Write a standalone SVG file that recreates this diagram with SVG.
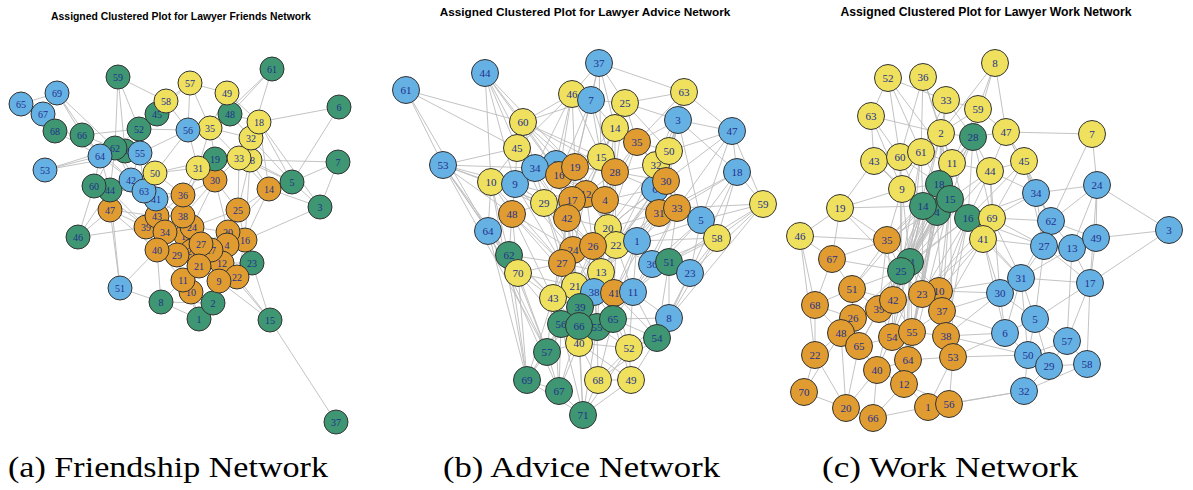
<svg xmlns="http://www.w3.org/2000/svg" width="1193" height="490" viewBox="0 0 1193 490">
<style>
.n circle{stroke:#333;stroke-width:1}
.G circle{fill:#3E9672}
.B circle{fill:#66B1E4}
.Y circle{fill:#EFE15E}
.O circle{fill:#E09C31}
.n text{font-family:"Liberation Serif","Times New Roman",serif;fill:#22308c;text-anchor:middle}
#pa .n text{font-size:10px}
#pb .n text,#pc .n text{font-size:11px}
.edges{fill:none;stroke:#bcbcbc;stroke-width:0.9}
.title{font-family:"Liberation Sans",Arial,sans-serif;font-weight:bold;fill:#000;text-anchor:middle}
.cap{font-family:"Liberation Serif","Times New Roman",serif;font-size:28.5px;fill:#000}
</style>
<rect width="1193" height="490" fill="#fff"/>

<!-- panel titles -->
<text class="title" x="181" y="20" font-size="10.4">Assigned Clustered Plot for Lawyer Friends Network</text>
<text class="title" x="585" y="16" font-size="11.8">Assigned Clustered Plot for Lawyer Advice Network</text>
<text class="title" x="986" y="16" font-size="12.2">Assigned Clustered Plot for Lawyer Work Network</text>

<!-- edges -->
<g id="connectors">
<path class="edges" id="edges-a" d="M272 69 230 114M272 69 251 138M272 69 210 128M339 107 259 122M339 107 292 182M338 162 250 160M338 162 292 182M338 162 320 207M320 207 292 182M320 207 269 189M320 207 245 240M320 207 259 122M292 182 259 122M292 182 269 189M292 182 251 138M292 182 250 160M292 182 239 158M118 77 115 148M118 77 139 129M118 77 166 101M118 77 125 151M57 93 82 135M57 93 100 156M57 93 115 148M43 114 21 104M43 114 57 93M21 104 57 93M55 131 100 156M55 131 82 135M43 114 55 131M45 170 115 148M45 170 140 153M45 170 100 156M78 237 110 190M78 237 94 186M78 237 146 227M78 237 110 210M120 288 110 210M120 288 157 250M120 288 161 302M120 288 110 190M161 302 199 319M161 302 183 280M161 302 157 250M161 302 213 303M270 320 252 263M270 320 237 277M270 320 336 422M270 320 219 281M270 320 222 263M199 319 213 303M199 319 183 280M199 319 191 292M213 303 191 292M213 303 219 281M252 263 245 240M252 263 237 277M252 263 228 232M252 263 222 263M190 83 166 101M190 83 210 128M190 83 188 130M190 83 227 93M190 83 157 114M227 93 230 114M227 93 210 128M227 93 259 122M166 101 157 114M166 101 188 130M166 101 139 129M259 122 251 138M259 122 230 114M259 122 269 189M259 122 239 158M230 114 210 128M230 114 251 138M82 135 115 148M82 135 100 156M82 135 139 129M82 135 131 180M139 129 140 153M139 129 157 114M139 129 115 148M139 129 188 130M188 130 210 128M188 130 155 173M188 130 198 168M188 130 140 153M115 148 100 156M115 148 140 153M115 148 131 180M115 148 94 186M115 148 110 190M115 148 144 191M100 156 131 180M100 156 94 186M100 156 110 190M140 153 155 173M140 153 144 191M140 153 131 180M94 186 110 190M94 186 110 210M94 186 131 180M94 186 144 191M94 186 146 227M110 190 110 210M110 190 131 180M110 190 144 191M110 190 146 227M131 180 144 191M131 180 156 199M131 180 157 216M131 180 155 173M144 191 156 199M144 191 157 216M144 191 183 195M144 191 155 173M155 173 198 168M155 173 183 195M155 173 156 199M155 173 215 159M156 199 157 216M156 199 183 216M156 199 183 195M156 199 165 232M110 210 146 227M110 210 157 216M110 210 157 250M210 128 198 168M210 128 215 159M210 128 239 158M210 128 251 138M215 159 198 168M215 159 215 180M215 159 239 158M215 159 183 195M239 158 250 160M239 158 251 138M239 158 215 180M239 158 269 189M239 158 238 210M250 160 269 189M250 160 238 210M250 160 245 240M198 168 215 180M198 168 183 195M198 168 183 216M215 180 183 195M215 180 183 216M215 180 238 210M215 180 192 227M215 180 228 232M269 189 238 210M269 189 245 240M269 189 228 232M238 210 228 232M238 210 245 240M238 210 192 227M183 195 183 216M183 195 157 216M183 195 192 227M157 216 183 216M157 216 146 227M157 216 165 232M183 216 192 227M183 216 165 232M183 216 186 236M146 227 165 232M146 227 157 250M165 232 157 250M165 232 177 255M165 232 186 236M192 227 186 236M192 227 201 244M192 227 228 232M186 236 201 244M186 236 192 251M186 236 177 255M201 244 192 251M201 244 211 250M201 244 199 266M201 244 228 232M201 244 227 245M192 251 177 255M192 251 199 266M192 251 211 250M211 250 227 245M211 250 222 263M211 250 199 266M157 250 177 255M157 250 183 280M177 255 199 266M177 255 183 280M199 266 183 280M199 266 191 292M199 266 219 281M199 266 222 263M183 280 191 292M228 232 245 240M228 232 227 245M245 240 227 245M245 240 237 277M245 240 222 263M227 245 222 263M222 263 237 277M222 263 219 281M237 277 219 281"/>
<path class="edges" id="edges-b" d="M406 90 443 165M406 90 523 122M406 90 517 148M485 73 523 122M485 73 517 148M485 73 491 182M485 73 535 168M485 73 575 167M443 165 491 182M443 165 535 168M443 165 517 148M443 165 488 231M443 165 512 214M443 165 515 184M443 165 544 203M599 63 591 100M599 63 625 103M599 63 684 92M599 63 572 94M599 63 615 128M599 63 601 157M572 94 523 122M572 94 591 100M572 94 535 168M572 94 575 167M572 94 517 148M572 94 559 175M684 92 678 120M684 92 669 151M684 92 625 103M684 92 732 131M684 92 637 142M591 100 625 103M591 100 615 128M591 100 523 122M591 100 575 167M591 100 601 157M625 103 615 128M625 103 678 120M625 103 637 142M625 103 669 151M678 120 669 151M678 120 732 131M678 120 656 165M678 120 737 172M678 120 637 142M678 120 659 213M732 131 737 172M732 131 669 151M732 131 701 220M732 131 666 181M523 122 517 148M523 122 535 168M523 122 559 175M523 122 615 172M523 122 601 157M615 128 637 142M615 128 601 157M615 128 615 172M615 128 575 167M637 142 615 172M637 142 669 151M637 142 656 165M637 142 605 200M517 148 535 168M517 148 515 184M517 148 491 182M517 148 559 175M517 148 544 203M669 151 656 165M669 151 666 181M669 151 677 208M669 151 655 189M601 157 615 172M601 157 575 167M601 157 586 194M601 157 605 200M601 157 556 164M535 168 515 184M535 168 556 164M535 168 559 175M535 168 544 203M575 167 559 175M575 167 586 194M575 167 572 200M656 165 666 181M656 165 655 189M656 165 659 213M656 165 677 208M615 172 605 200M615 172 586 194M615 172 608 228M615 172 666 181M737 172 701 220M737 172 677 208M737 172 763 204M737 172 717 238M737 172 659 213M491 182 515 184M491 182 512 214M491 182 488 231M491 182 544 203M491 182 509 255M515 184 512 214M515 184 544 203M515 184 559 175M515 184 567 218M666 181 655 189M666 181 677 208M666 181 659 213M666 181 637 241M655 189 659 213M655 189 605 200M655 189 608 228M586 194 572 200M586 194 605 200M586 194 567 218M586 194 608 228M572 200 567 218M572 200 544 203M572 200 605 200M572 200 573 250M605 200 608 228M605 200 593 246M605 200 616 245M544 203 512 214M544 203 567 218M544 203 562 263M763 204 701 220M763 204 717 238M763 204 690 273M763 204 677 208M659 213 677 208M659 213 701 220M659 213 637 241M659 213 616 245M677 208 701 220M677 208 717 238M677 208 652 264M701 220 717 238M701 220 690 273M701 220 637 241M512 214 488 231M512 214 509 255M512 214 518 273M512 214 562 263M567 218 573 250M567 218 562 263M567 218 608 228M608 228 616 245M608 228 593 246M608 228 637 241M608 228 601 272M488 231 509 255M488 231 518 273M488 231 527 380M488 231 547 352M717 238 690 273M717 238 637 241M717 238 669 262M637 241 616 245M637 241 652 264M637 241 633 292M616 245 593 246M616 245 601 272M616 245 614 293M573 250 593 246M573 250 562 263M573 250 575 286M573 250 601 272M593 246 601 272M593 246 594 292M593 246 575 286M509 255 518 273M509 255 527 380M509 255 547 352M509 255 562 263M562 263 575 286M562 263 553 298M562 263 518 273M652 264 669 262M652 264 633 292M652 264 690 273M669 262 690 273M669 262 669 318M669 262 657 338M669 262 633 292M518 273 553 298M518 273 547 352M518 273 527 380M518 273 575 286M601 272 594 292M601 272 614 293M601 272 575 286M575 286 594 292M575 286 553 298M575 286 580 307M594 292 614 293M594 292 580 307M594 292 613 319M614 293 633 292M614 293 613 319M614 293 597 327M633 292 613 319M633 292 669 318M633 292 629 348M553 298 580 307M553 298 561 324M553 298 547 352M580 307 561 324M580 307 579 326M580 307 597 327M669 318 657 338M669 318 613 319M613 319 597 327M613 319 657 338M613 319 629 348M561 324 579 326M561 324 547 352M561 324 579 343M597 327 579 326M597 327 579 343M597 327 629 348M657 338 629 348M657 338 631 380M579 343 547 352M579 343 629 348M579 343 598 380M579 343 583 415M547 352 527 380M547 352 559 391M629 348 598 380M629 348 631 380M527 380 559 391M527 380 583 415M598 380 631 380M598 380 583 415M559 391 583 415M631 380 583 415M559 391 579 343M559 391 561 324M491 182 527 380M443 165 518 273M488 231 559 391M559 175 586 194M556 164 575 167M559 175 572 200M575 167 615 172M567 218 593 246M572 200 593 246M586 194 573 250M605 200 601 272M544 203 573 250M562 263 601 272M593 246 614 293M573 250 594 292M575 286 614 293M559 175 544 203M556 164 615 172M601 157 559 175M655 189 616 245M666 181 616 245M659 213 608 228M677 208 637 241M677 208 669 262M656 165 615 172M655 189 615 172M605 200 659 213M608 228 614 293M616 245 652 264M601 272 633 292M594 292 597 327M614 293 629 348M575 286 579 326M553 298 579 326M573 250 553 298M562 263 580 307M567 218 601 272M515 184 572 200M535 168 572 200M586 194 593 246M523 122 575 167M523 122 586 194M517 148 572 200M517 148 567 218M535 168 567 218M535 168 586 194M491 182 567 218M491 182 562 263M515 184 573 250M515 184 562 263M544 203 593 246M544 203 575 286M512 214 573 250M512 214 553 298M512 214 575 286M559 175 567 218M559 175 605 200M575 167 605 200M575 167 608 228M615 172 616 245M615 172 593 246M601 157 608 228M601 157 567 218M615 128 605 200M615 128 586 194M637 142 608 228M637 142 666 181M656 165 608 228M656 165 616 245M666 181 608 228M655 189 637 241M655 189 601 272M659 213 601 272M659 213 614 293M677 208 633 292M701 220 652 264M701 220 633 292M717 238 652 264M717 238 669 318M637 241 601 272M637 241 614 293M637 241 613 319M616 245 594 292M616 245 633 292M608 228 575 286M608 228 594 292M567 218 575 286M567 218 553 298M562 263 561 324M562 263 579 326M573 250 580 307M573 250 579 326M593 246 597 327M593 246 580 307M601 272 613 319M601 272 597 327M601 272 579 343M575 286 561 324M594 292 579 343M614 293 657 338M633 292 657 338M553 298 527 380M553 298 559 391M580 307 547 352M580 307 579 343M579 326 559 391M579 326 583 415M597 327 598 380M597 327 583 415M613 319 631 380M613 319 598 380M561 324 527 380M561 324 583 415M629 348 583 415M579 343 631 380M509 255 553 298M518 273 561 324M488 231 553 298M443 165 509 255M443 165 547 352M406 90 488 231M485 73 515 184M485 73 559 175M572 94 556 164M572 94 601 157M599 63 575 167M591 100 559 175M591 100 615 172M625 103 615 172M625 103 601 157M684 92 656 165M684 92 666 181M678 120 666 181M678 120 701 220M732 131 763 204M732 131 677 208M737 172 690 273M763 204 669 262M763 204 669 318M690 273 657 338M690 273 669 318M657 338 598 380M669 318 629 348"/>
<path class="edges" id="edges-c" d="M995 63 978 109M995 63 973 137M995 63 1006 132M995 63 941 133M888 78 871 116M888 78 921 152M888 78 900 157M888 78 952 163M888 78 946 100M923 77 921 152M923 77 941 133M923 77 952 163M923 77 900 157M946 100 941 133M946 100 978 109M946 100 973 137M946 100 921 152M946 100 939 184M978 109 973 137M978 109 1006 132M978 109 941 133M978 109 952 163M871 116 874 161M871 116 900 157M871 116 941 133M871 116 902 189M1006 132 973 137M1006 132 1092 134M1006 132 990 171M1006 132 1024 161M1006 132 1036 193M1006 132 1051 221M1092 134 1097 185M1092 134 1051 221M941 133 973 137M941 133 921 152M941 133 952 163M941 133 939 184M941 133 950 199M973 137 952 163M973 137 990 171M973 137 939 184M973 137 950 199M973 137 968 218M973 137 992 218M921 152 900 157M921 152 952 163M921 152 939 184M921 152 923 206M921 152 902 189M900 157 874 161M900 157 902 189M900 157 923 206M900 157 939 184M874 161 902 189M874 161 923 206M874 161 840 208M952 163 939 184M952 163 950 199M952 163 990 171M952 163 968 218M1024 161 990 171M1024 161 1036 193M1024 161 1051 221M1024 161 992 218M1024 161 968 218M990 171 968 218M990 171 992 218M990 171 1036 193M990 171 950 199M902 189 923 206M902 189 939 184M902 189 840 208M902 189 887 240M939 184 950 199M939 184 923 206M939 184 968 218M939 184 910 262M1097 185 1036 193M1097 185 1051 221M1097 185 1096 238M1097 185 1169 230M1097 185 1090 283M1097 185 1072 248M1036 193 1051 221M1036 193 1044 246M1036 193 992 218M1036 193 968 218M950 199 923 206M950 199 968 218M950 199 937 212M950 199 983 239M950 199 901 271M923 206 937 212M923 206 910 262M923 206 901 271M923 206 887 240M923 206 840 208M840 208 800 236M840 208 887 240M840 208 901 271M968 218 992 218M968 218 983 239M968 218 1044 246M968 218 910 262M992 218 983 239M992 218 1051 221M992 218 1021 278M1051 221 1044 246M1051 221 1072 248M1051 221 1096 238M1051 221 1021 278M1169 230 1096 238M1169 230 1090 283M800 236 832 259M800 236 815 305M800 236 887 240M983 239 1044 246M983 239 1000 293M983 239 922 294M983 239 1021 278M1096 238 1072 248M1096 238 1090 283M887 240 832 259M887 240 901 271M887 240 852 289M887 240 910 262M1044 246 1072 248M1044 246 1021 278M1044 246 1090 283M1044 246 1035 319M1072 248 1090 283M1072 248 1021 278M1072 248 1067 341M832 259 852 289M832 259 815 305M832 259 901 271M910 262 901 271M910 262 922 294M910 262 939 291M910 262 893 300M910 262 942 311M910 262 912 332M910 262 879 309M901 271 893 300M901 271 879 309M901 271 852 289M901 271 922 294M901 271 892 337M901 271 853 318M901 271 908 360M1090 283 1021 278M1090 283 1067 341M1090 283 1087 364M1090 283 1035 319M1021 278 1000 293M1021 278 1035 319M1021 278 1005 333M1021 278 1028 355M852 289 893 300M852 289 879 309M852 289 853 318M852 289 815 305M939 291 922 294M939 291 942 311M939 291 1000 293M922 294 893 300M922 294 942 311M922 294 912 332M1000 293 1005 333M1000 293 1035 319M1000 293 942 311M1000 293 946 336M893 300 879 309M893 300 912 332M893 300 892 337M815 305 853 318M815 305 815 355M815 305 841 333M879 309 853 318M879 309 892 337M879 309 859 346M942 311 946 336M942 311 912 332M942 311 953 357M853 318 841 333M853 318 859 346M1035 319 1005 333M1035 319 1067 341M1035 319 1028 355M1035 319 1049 366M841 333 859 346M841 333 815 355M841 333 846 408M841 333 804 392M912 332 892 337M912 332 908 360M912 332 946 336M892 337 859 346M892 337 908 360M892 337 877 370M946 336 953 357M946 336 1005 333M946 336 1028 355M1005 333 1028 355M1005 333 953 357M1067 341 1049 366M1067 341 1087 364M1067 341 1028 355M859 346 877 370M859 346 846 408M815 355 804 392M815 355 846 408M1028 355 1049 366M1028 355 1024 391M953 357 908 360M953 357 949 404M953 357 928 407M908 360 904 384M908 360 877 370M1049 366 1087 364M1049 366 1024 391M1087 364 1024 391M877 370 904 384M877 370 873 418M877 370 846 408M904 384 928 407M904 384 873 418M904 384 949 404M804 392 846 408M846 408 873 418M928 407 949 404M873 418 928 407M949 404 1024 391M928 407 1024 391M939 184 901 271M950 199 910 262M923 206 893 300M937 212 922 294M937 212 912 332M950 199 942 311M968 218 939 291M939 184 908 360M923 206 892 337M937 212 879 309M968 218 922 294M950 199 904 384M973 137 901 271M941 133 910 262M952 163 910 262M921 152 901 271M990 171 1000 293M992 218 1044 246M1024 161 1044 246M983 239 1005 333M968 218 1021 278M942 311 1005 333M953 357 1028 355M939 291 1021 278M939 184 912 332M950 199 892 337M923 206 879 309M937 212 893 300M937 212 942 311M968 218 942 311M950 199 939 291M939 184 922 294M923 206 922 294M937 212 910 262M937 212 901 271M968 218 901 271M950 199 887 240M939 184 887 240M923 206 852 289M937 212 908 360M968 218 946 336M950 199 953 357M973 137 910 262M921 152 910 262M900 157 901 271M902 189 901 271M902 189 910 262M941 133 901 271M952 163 901 271M990 171 910 262M992 218 922 294M983 239 939 291M983 239 942 311M910 262 904 384M901 271 877 370M910 262 908 360M901 271 859 346M887 240 893 300M887 240 879 309M840 208 832 259M800 236 815 355"/>
</g>

<!-- Friendship network nodes -->
<g id="pa">
<g id="a37" class="n G"><circle cx="336" cy="422" r="12"/><text x="336" y="425.5">37</text></g>
<g id="a15" class="n G"><circle cx="270" cy="320" r="12"/><text x="270" y="323.5">15</text></g>
<g id="a1" class="n G"><circle cx="199" cy="319" r="12"/><text x="199" y="322.5">1</text></g>
<g id="a2" class="n G"><circle cx="213" cy="303" r="12"/><text x="213" y="306.5">2</text></g>
<g id="a8" class="n G"><circle cx="161" cy="302" r="12"/><text x="161" y="305.5">8</text></g>
<g id="a51" class="n B"><circle cx="120" cy="288" r="12"/><text x="120" y="291.5">51</text></g>
<g id="a46" class="n G"><circle cx="78" cy="237" r="12"/><text x="78" y="240.5">46</text></g>
<g id="a3" class="n G"><circle cx="320" cy="207" r="12"/><text x="320" y="210.5">3</text></g>
<g id="a7" class="n G"><circle cx="338" cy="162" r="12"/><text x="338" y="165.5">7</text></g>
<g id="a6" class="n G"><circle cx="339" cy="107" r="12"/><text x="339" y="110.5">6</text></g>
<g id="a61" class="n G"><circle cx="272" cy="69" r="12"/><text x="272" y="72.5">61</text></g>
<g id="a5" class="n G"><circle cx="292" cy="182" r="12"/><text x="292" y="185.5">5</text></g>
<g id="a14" class="n O"><circle cx="269" cy="189" r="12"/><text x="269" y="192.5">14</text></g>
<g id="a23" class="n G"><circle cx="252" cy="263" r="12"/><text x="252" y="266.5">23</text></g>
<g id="a16" class="n O"><circle cx="245" cy="240" r="12"/><text x="245" y="243.5">16</text></g>
<g id="a20" class="n O"><circle cx="228" cy="232" r="12"/><text x="228" y="235.5">20</text></g>
<g id="a4" class="n O"><circle cx="227" cy="245" r="12"/><text x="227" y="248.5">4</text></g>
<g id="a12" class="n O"><circle cx="222" cy="263" r="12"/><text x="222" y="266.5">12</text></g>
<g id="a22" class="n O"><circle cx="237" cy="277" r="12"/><text x="237" y="280.5">22</text></g>
<g id="a9" class="n O"><circle cx="219" cy="281" r="12"/><text x="219" y="284.5">9</text></g>
<g id="a10" class="n O"><circle cx="191" cy="292" r="12"/><text x="191" y="295.5">10</text></g>
<g id="a11" class="n O"><circle cx="183" cy="280" r="12"/><text x="183" y="283.5">11</text></g>
<g id="a13" class="n O"><circle cx="186" cy="236" r="12"/><text x="186" y="239.5">13</text></g>
<g id="a26" class="n O"><circle cx="192" cy="251" r="12"/><text x="192" y="254.5">26</text></g>
<g id="a17" class="n O"><circle cx="211" cy="250" r="12"/><text x="211" y="253.5">17</text></g>
<g id="a24" class="n O"><circle cx="192" cy="227" r="12"/><text x="192" y="230.5">24</text></g>
<g id="a27" class="n O"><circle cx="201" cy="244" r="12"/><text x="201" y="247.5">27</text></g>
<g id="a21" class="n O"><circle cx="199" cy="266" r="12"/><text x="199" y="269.5">21</text></g>
<g id="a29" class="n O"><circle cx="177" cy="255" r="12"/><text x="177" y="258.5">29</text></g>
<g id="a39" class="n O"><circle cx="146" cy="227" r="12"/><text x="146" y="230.5">39</text></g>
<g id="a43" class="n O"><circle cx="157" cy="216" r="12"/><text x="157" y="219.5">43</text></g>
<g id="a34" class="n O"><circle cx="165" cy="232" r="12"/><text x="165" y="235.5">34</text></g>
<g id="a40" class="n O"><circle cx="157" cy="250" r="12"/><text x="157" y="253.5">40</text></g>
<g id="a38" class="n O"><circle cx="183" cy="216" r="12"/><text x="183" y="219.5">38</text></g>
<g id="a36" class="n O"><circle cx="183" cy="195" r="12"/><text x="183" y="198.5">36</text></g>
<g id="a47" class="n O"><circle cx="110" cy="210" r="12"/><text x="110" y="213.5">47</text></g>
<g id="a25" class="n O"><circle cx="238" cy="210" r="12"/><text x="238" y="213.5">25</text></g>
<g id="a30" class="n O"><circle cx="215" cy="180" r="12"/><text x="215" y="183.5">30</text></g>
<g id="a28" class="n Y"><circle cx="250" cy="160" r="12"/><text x="250" y="163.5">28</text></g>
<g id="a33" class="n Y"><circle cx="239" cy="158" r="12"/><text x="239" y="161.5">33</text></g>
<g id="a32" class="n Y"><circle cx="251" cy="138" r="12"/><text x="251" y="141.5">32</text></g>
<g id="a18" class="n Y"><circle cx="259" cy="122" r="12"/><text x="259" y="125.5">18</text></g>
<g id="a48" class="n G"><circle cx="230" cy="114" r="12"/><text x="230" y="117.5">48</text></g>
<g id="a49" class="n Y"><circle cx="227" cy="93" r="12"/><text x="227" y="96.5">49</text></g>
<g id="a19" class="n G"><circle cx="215" cy="159" r="12"/><text x="215" y="162.5">19</text></g>
<g id="a31" class="n Y"><circle cx="198" cy="168" r="12"/><text x="198" y="171.5">31</text></g>
<g id="a35" class="n Y"><circle cx="210" cy="128" r="12"/><text x="210" y="131.5">35</text></g>
<g id="a57" class="n Y"><circle cx="190" cy="83" r="12"/><text x="190" y="86.5">57</text></g>
<g id="a59" class="n G"><circle cx="118" cy="77" r="12"/><text x="118" y="80.5">59</text></g>
<g id="a65" class="n B"><circle cx="21" cy="104" r="12"/><text x="21" y="107.5">65</text></g>
<g id="a69" class="n B"><circle cx="57" cy="93" r="12"/><text x="57" y="96.5">69</text></g>
<g id="a67" class="n B"><circle cx="43" cy="114" r="12"/><text x="43" y="117.5">67</text></g>
<g id="a68" class="n G"><circle cx="55" cy="131" r="12"/><text x="55" y="134.5">68</text></g>
<g id="a66" class="n G"><circle cx="82" cy="135" r="12"/><text x="82" y="138.5">66</text></g>
<g id="a53" class="n B"><circle cx="45" cy="170" r="12"/><text x="45" y="173.5">53</text></g>
<g id="a52" class="n G"><circle cx="139" cy="129" r="12"/><text x="139" y="132.5">52</text></g>
<g id="a45" class="n G"><circle cx="157" cy="114" r="12"/><text x="157" y="117.5">45</text></g>
<g id="a58" class="n Y"><circle cx="166" cy="101" r="12"/><text x="166" y="104.5">58</text></g>
<g id="a56" class="n B"><circle cx="188" cy="130" r="12"/><text x="188" y="133.5">56</text></g>
<g id="a54" class="n G"><circle cx="125" cy="151" r="12"/><text x="125" y="154.5">54</text></g>
<g id="a62" class="n G"><circle cx="115" cy="148" r="12"/><text x="115" y="151.5">62</text></g>
<g id="a64" class="n B"><circle cx="100" cy="156" r="12"/><text x="100" y="159.5">64</text></g>
<g id="a55" class="n B"><circle cx="140" cy="153" r="12"/><text x="140" y="156.5">55</text></g>
<g id="a44" class="n G"><circle cx="110" cy="190" r="12"/><text x="110" y="193.5">44</text></g>
<g id="a60" class="n G"><circle cx="94" cy="186" r="12"/><text x="94" y="189.5">60</text></g>
<g id="a42" class="n B"><circle cx="131" cy="180" r="12"/><text x="131" y="183.5">42</text></g>
<g id="a41" class="n B"><circle cx="156" cy="199" r="12"/><text x="156" y="202.5">41</text></g>
<g id="a63" class="n B"><circle cx="144" cy="191" r="12"/><text x="144" y="194.5">63</text></g>
<g id="a50" class="n Y"><circle cx="155" cy="173" r="12"/><text x="155" y="176.5">50</text></g>
</g>

<!-- Advice network nodes -->
<g id="pb">
<g id="b61" class="n B"><circle cx="406" cy="90" r="13.5"/><text x="406" y="94">61</text></g>
<g id="b44" class="n B"><circle cx="485" cy="73" r="13.5"/><text x="485" y="77">44</text></g>
<g id="b53" class="n B"><circle cx="443" cy="165" r="13.5"/><text x="443" y="169">53</text></g>
<g id="b37" class="n B"><circle cx="599" cy="63" r="13.5"/><text x="599" y="67">37</text></g>
<g id="b63" class="n Y"><circle cx="684" cy="92" r="13.5"/><text x="684" y="96">63</text></g>
<g id="b47" class="n B"><circle cx="732" cy="131" r="13.5"/><text x="732" y="135">47</text></g>
<g id="b18" class="n B"><circle cx="737" cy="172" r="13.5"/><text x="737" y="176">18</text></g>
<g id="b59" class="n Y"><circle cx="763" cy="204" r="13.5"/><text x="763" y="208">59</text></g>
<g id="b46" class="n Y"><circle cx="572" cy="94" r="13.5"/><text x="572" y="98">46</text></g>
<g id="b7" class="n B"><circle cx="591" cy="100" r="13.5"/><text x="591" y="104">7</text></g>
<g id="b25" class="n Y"><circle cx="625" cy="103" r="13.5"/><text x="625" y="107">25</text></g>
<g id="b3" class="n B"><circle cx="678" cy="120" r="13.5"/><text x="678" y="124">3</text></g>
<g id="b14" class="n Y"><circle cx="615" cy="128" r="13.5"/><text x="615" y="132">14</text></g>
<g id="b35" class="n O"><circle cx="637" cy="142" r="13.5"/><text x="637" y="146">35</text></g>
<g id="b60" class="n Y"><circle cx="523" cy="122" r="13.5"/><text x="523" y="126">60</text></g>
<g id="b45" class="n Y"><circle cx="517" cy="148" r="13.5"/><text x="517" y="152">45</text></g>
<g id="b15" class="n Y"><circle cx="601" cy="157" r="13.5"/><text x="601" y="161">15</text></g>
<g id="b2" class="n B"><circle cx="556" cy="164" r="13.5"/><text x="556" y="168">2</text></g>
<g id="b10" class="n Y"><circle cx="491" cy="182" r="13.5"/><text x="491" y="186">10</text></g>
<g id="b9" class="n B"><circle cx="515" cy="184" r="13.5"/><text x="515" y="188">9</text></g>
<g id="b34" class="n B"><circle cx="535" cy="168" r="13.5"/><text x="535" y="172">34</text></g>
<g id="b16" class="n O"><circle cx="559" cy="175" r="13.5"/><text x="559" y="179">16</text></g>
<g id="b19" class="n O"><circle cx="575" cy="167" r="13.5"/><text x="575" y="171">19</text></g>
<g id="b28" class="n O"><circle cx="615" cy="172" r="13.5"/><text x="615" y="176">28</text></g>
<g id="b6" class="n B"><circle cx="655" cy="189" r="13.5"/><text x="655" y="193">6</text></g>
<g id="b32" class="n Y"><circle cx="656" cy="165" r="13.5"/><text x="656" y="169">32</text></g>
<g id="b50" class="n Y"><circle cx="669" cy="151" r="13.5"/><text x="669" y="155">50</text></g>
<g id="b30" class="n O"><circle cx="666" cy="181" r="13.5"/><text x="666" y="185">30</text></g>
<g id="b12" class="n O"><circle cx="586" cy="194" r="13.5"/><text x="586" y="198">12</text></g>
<g id="b4" class="n O"><circle cx="605" cy="200" r="13.5"/><text x="605" y="204">4</text></g>
<g id="b17" class="n O"><circle cx="572" cy="200" r="13.5"/><text x="572" y="204">17</text></g>
<g id="b42" class="n O"><circle cx="567" cy="218" r="13.5"/><text x="567" y="222">42</text></g>
<g id="b29" class="n Y"><circle cx="544" cy="203" r="13.5"/><text x="544" y="207">29</text></g>
<g id="b48" class="n O"><circle cx="512" cy="214" r="13.5"/><text x="512" y="218">48</text></g>
<g id="b64" class="n B"><circle cx="488" cy="231" r="13.5"/><text x="488" y="235">64</text></g>
<g id="b31" class="n O"><circle cx="659" cy="213" r="13.5"/><text x="659" y="217">31</text></g>
<g id="b33" class="n O"><circle cx="677" cy="208" r="13.5"/><text x="677" y="212">33</text></g>
<g id="b5" class="n B"><circle cx="701" cy="220" r="13.5"/><text x="701" y="224">5</text></g>
<g id="b58" class="n Y"><circle cx="717" cy="238" r="13.5"/><text x="717" y="242">58</text></g>
<g id="b20" class="n Y"><circle cx="608" cy="228" r="13.5"/><text x="608" y="232">20</text></g>
<g id="b22" class="n Y"><circle cx="616" cy="245" r="13.5"/><text x="616" y="249">22</text></g>
<g id="b1" class="n B"><circle cx="637" cy="241" r="13.5"/><text x="637" y="245">1</text></g>
<g id="b24" class="n O"><circle cx="573" cy="250" r="13.5"/><text x="573" y="254">24</text></g>
<g id="b26" class="n O"><circle cx="593" cy="246" r="13.5"/><text x="593" y="250">26</text></g>
<g id="b27" class="n O"><circle cx="562" cy="263" r="13.5"/><text x="562" y="267">27</text></g>
<g id="b62" class="n G"><circle cx="509" cy="255" r="13.5"/><text x="509" y="259">62</text></g>
<g id="b70" class="n Y"><circle cx="518" cy="273" r="13.5"/><text x="518" y="277">70</text></g>
<g id="b13" class="n Y"><circle cx="601" cy="272" r="13.5"/><text x="601" y="276">13</text></g>
<g id="b36" class="n B"><circle cx="652" cy="264" r="13.5"/><text x="652" y="268">36</text></g>
<g id="b51" class="n G"><circle cx="669" cy="262" r="13.5"/><text x="669" y="266">51</text></g>
<g id="b23" class="n B"><circle cx="690" cy="273" r="13.5"/><text x="690" y="277">23</text></g>
<g id="b21" class="n Y"><circle cx="575" cy="286" r="13.5"/><text x="575" y="290">21</text></g>
<g id="b38" class="n B"><circle cx="594" cy="292" r="13.5"/><text x="594" y="296">38</text></g>
<g id="b41" class="n O"><circle cx="614" cy="293" r="13.5"/><text x="614" y="297">41</text></g>
<g id="b11" class="n B"><circle cx="633" cy="292" r="13.5"/><text x="633" y="296">11</text></g>
<g id="b43" class="n Y"><circle cx="553" cy="298" r="13.5"/><text x="553" y="302">43</text></g>
<g id="b8" class="n B"><circle cx="669" cy="318" r="13.5"/><text x="669" y="322">8</text></g>
<g id="b54" class="n G"><circle cx="657" cy="338" r="13.5"/><text x="657" y="342">54</text></g>
<g id="b39" class="n G"><circle cx="580" cy="307" r="13.5"/><text x="580" y="311">39</text></g>
<g id="b40" class="n Y"><circle cx="579" cy="343" r="13.5"/><text x="579" y="347">40</text></g>
<g id="b55" class="n G"><circle cx="597" cy="327" r="13.5"/><text x="597" y="331">55</text></g>
<g id="b56" class="n G"><circle cx="561" cy="324" r="13.5"/><text x="561" y="328">56</text></g>
<g id="b66" class="n G"><circle cx="579" cy="326" r="13.5"/><text x="579" y="330">66</text></g>
<g id="b65" class="n G"><circle cx="613" cy="319" r="13.5"/><text x="613" y="323">65</text></g>
<g id="b52" class="n Y"><circle cx="629" cy="348" r="13.5"/><text x="629" y="352">52</text></g>
<g id="b57" class="n G"><circle cx="547" cy="352" r="13.5"/><text x="547" y="356">57</text></g>
<g id="b69" class="n G"><circle cx="527" cy="380" r="13.5"/><text x="527" y="384">69</text></g>
<g id="b68" class="n Y"><circle cx="598" cy="380" r="13.5"/><text x="598" y="384">68</text></g>
<g id="b49" class="n Y"><circle cx="631" cy="380" r="13.5"/><text x="631" y="384">49</text></g>
<g id="b67" class="n G"><circle cx="559" cy="391" r="13.5"/><text x="559" y="395">67</text></g>
<g id="b71" class="n G"><circle cx="583" cy="415" r="13.5"/><text x="583" y="419">71</text></g>
</g>

<!-- Work network nodes -->
<g id="pc">
<g id="c8" class="n Y"><circle cx="995" cy="63" r="13.5"/><text x="995" y="67">8</text></g>
<g id="c52" class="n Y"><circle cx="888" cy="78" r="13.5"/><text x="888" y="82">52</text></g>
<g id="c36" class="n Y"><circle cx="923" cy="77" r="13.5"/><text x="923" y="81">36</text></g>
<g id="c33" class="n Y"><circle cx="946" cy="100" r="13.5"/><text x="946" y="104">33</text></g>
<g id="c63" class="n Y"><circle cx="871" cy="116" r="13.5"/><text x="871" y="120">63</text></g>
<g id="c59" class="n Y"><circle cx="978" cy="109" r="13.5"/><text x="978" y="113">59</text></g>
<g id="c7" class="n Y"><circle cx="1092" cy="134" r="13.5"/><text x="1092" y="138">7</text></g>
<g id="c47" class="n Y"><circle cx="1006" cy="132" r="13.5"/><text x="1006" y="136">47</text></g>
<g id="c2" class="n Y"><circle cx="941" cy="133" r="13.5"/><text x="941" y="137">2</text></g>
<g id="c28" class="n G"><circle cx="973" cy="137" r="13.5"/><text x="973" y="141">28</text></g>
<g id="c43" class="n Y"><circle cx="874" cy="161" r="13.5"/><text x="874" y="165">43</text></g>
<g id="c60" class="n Y"><circle cx="900" cy="157" r="13.5"/><text x="900" y="161">60</text></g>
<g id="c61" class="n Y"><circle cx="921" cy="152" r="13.5"/><text x="921" y="156">61</text></g>
<g id="c11" class="n Y"><circle cx="952" cy="163" r="13.5"/><text x="952" y="167">11</text></g>
<g id="c45" class="n Y"><circle cx="1024" cy="161" r="13.5"/><text x="1024" y="165">45</text></g>
<g id="c44" class="n Y"><circle cx="990" cy="171" r="13.5"/><text x="990" y="175">44</text></g>
<g id="c9" class="n Y"><circle cx="902" cy="189" r="13.5"/><text x="902" y="193">9</text></g>
<g id="c19" class="n Y"><circle cx="840" cy="208" r="13.5"/><text x="840" y="212">19</text></g>
<g id="c24" class="n B"><circle cx="1097" cy="185" r="13.5"/><text x="1097" y="189">24</text></g>
<g id="c3" class="n B"><circle cx="1169" cy="230" r="13.5"/><text x="1169" y="234">3</text></g>
<g id="c34" class="n B"><circle cx="1036" cy="193" r="13.5"/><text x="1036" y="197">34</text></g>
<g id="c4" class="n G"><circle cx="937" cy="212" r="13.5"/><text x="937" y="216">4</text></g>
<g id="c18" class="n G"><circle cx="939" cy="184" r="13.5"/><text x="939" y="188">18</text></g>
<g id="c15" class="n G"><circle cx="950" cy="199" r="13.5"/><text x="950" y="203">15</text></g>
<g id="c14" class="n G"><circle cx="923" cy="206" r="13.5"/><text x="923" y="210">14</text></g>
<g id="c16" class="n G"><circle cx="968" cy="218" r="13.5"/><text x="968" y="222">16</text></g>
<g id="c69" class="n Y"><circle cx="992" cy="218" r="13.5"/><text x="992" y="222">69</text></g>
<g id="c62" class="n B"><circle cx="1051" cy="221" r="13.5"/><text x="1051" y="225">62</text></g>
<g id="c41" class="n Y"><circle cx="983" cy="239" r="13.5"/><text x="983" y="243">41</text></g>
<g id="c27" class="n B"><circle cx="1044" cy="246" r="13.5"/><text x="1044" y="250">27</text></g>
<g id="c13" class="n B"><circle cx="1072" cy="248" r="13.5"/><text x="1072" y="252">13</text></g>
<g id="c49" class="n B"><circle cx="1096" cy="238" r="13.5"/><text x="1096" y="242">49</text></g>
<g id="c46" class="n Y"><circle cx="800" cy="236" r="13.5"/><text x="800" y="240">46</text></g>
<g id="c35" class="n O"><circle cx="887" cy="240" r="13.5"/><text x="887" y="244">35</text></g>
<g id="c67" class="n O"><circle cx="832" cy="259" r="13.5"/><text x="832" y="263">67</text></g>
<g id="c21" class="n G"><circle cx="910" cy="262" r="13.5"/><text x="910" y="266">21</text></g>
<g id="c25" class="n G"><circle cx="901" cy="271" r="13.5"/><text x="901" y="275">25</text></g>
<g id="c17" class="n B"><circle cx="1090" cy="283" r="13.5"/><text x="1090" y="287">17</text></g>
<g id="c30" class="n B"><circle cx="1000" cy="293" r="13.5"/><text x="1000" y="297">30</text></g>
<g id="c31" class="n B"><circle cx="1021" cy="278" r="13.5"/><text x="1021" y="282">31</text></g>
<g id="c51" class="n O"><circle cx="852" cy="289" r="13.5"/><text x="852" y="293">51</text></g>
<g id="c10" class="n O"><circle cx="939" cy="291" r="13.5"/><text x="939" y="295">10</text></g>
<g id="c23" class="n O"><circle cx="922" cy="294" r="13.5"/><text x="922" y="298">23</text></g>
<g id="c68" class="n O"><circle cx="815" cy="305" r="13.5"/><text x="815" y="309">68</text></g>
<g id="c39" class="n O"><circle cx="879" cy="309" r="13.5"/><text x="879" y="313">39</text></g>
<g id="c42" class="n O"><circle cx="893" cy="300" r="13.5"/><text x="893" y="304">42</text></g>
<g id="c37" class="n O"><circle cx="942" cy="311" r="13.5"/><text x="942" y="315">37</text></g>
<g id="c26" class="n O"><circle cx="853" cy="318" r="13.5"/><text x="853" y="322">26</text></g>
<g id="c48" class="n O"><circle cx="841" cy="333" r="13.5"/><text x="841" y="337">48</text></g>
<g id="c65" class="n O"><circle cx="859" cy="346" r="13.5"/><text x="859" y="350">65</text></g>
<g id="c5" class="n B"><circle cx="1035" cy="319" r="13.5"/><text x="1035" y="323">5</text></g>
<g id="c54" class="n O"><circle cx="892" cy="337" r="13.5"/><text x="892" y="341">54</text></g>
<g id="c55" class="n O"><circle cx="912" cy="332" r="13.5"/><text x="912" y="336">55</text></g>
<g id="c38" class="n O"><circle cx="946" cy="336" r="13.5"/><text x="946" y="340">38</text></g>
<g id="c53" class="n O"><circle cx="953" cy="357" r="13.5"/><text x="953" y="361">53</text></g>
<g id="c6" class="n B"><circle cx="1005" cy="333" r="13.5"/><text x="1005" y="337">6</text></g>
<g id="c57" class="n B"><circle cx="1067" cy="341" r="13.5"/><text x="1067" y="345">57</text></g>
<g id="c22" class="n O"><circle cx="815" cy="355" r="13.5"/><text x="815" y="359">22</text></g>
<g id="c64" class="n O"><circle cx="908" cy="360" r="13.5"/><text x="908" y="364">64</text></g>
<g id="c50" class="n B"><circle cx="1028" cy="355" r="13.5"/><text x="1028" y="359">50</text></g>
<g id="c29" class="n B"><circle cx="1049" cy="366" r="13.5"/><text x="1049" y="370">29</text></g>
<g id="c58" class="n B"><circle cx="1087" cy="364" r="13.5"/><text x="1087" y="368">58</text></g>
<g id="c40" class="n O"><circle cx="877" cy="370" r="13.5"/><text x="877" y="374">40</text></g>
<g id="c12" class="n O"><circle cx="904" cy="384" r="13.5"/><text x="904" y="388">12</text></g>
<g id="c32" class="n B"><circle cx="1024" cy="391" r="13.5"/><text x="1024" y="395">32</text></g>
<g id="c70" class="n O"><circle cx="804" cy="392" r="13.5"/><text x="804" y="396">70</text></g>
<g id="c20" class="n O"><circle cx="846" cy="408" r="13.5"/><text x="846" y="412">20</text></g>
<g id="c1" class="n O"><circle cx="928" cy="407" r="13.5"/><text x="928" y="411">1</text></g>
<g id="c56" class="n O"><circle cx="949" cy="404" r="13.5"/><text x="949" y="408">56</text></g>
<g id="c66" class="n O"><circle cx="873" cy="418" r="13.5"/><text x="873" y="422">66</text></g>
</g>

<!-- sub-figure captions -->
<text class="cap" x="8" y="477" textLength="320" lengthAdjust="spacingAndGlyphs">(a) Friendship Network</text>
<text class="cap" x="443" y="477" textLength="277" lengthAdjust="spacingAndGlyphs">(b) Advice Network</text>
<text class="cap" x="822" y="477" textLength="256" lengthAdjust="spacingAndGlyphs">(c) Work Network</text>
</svg>
